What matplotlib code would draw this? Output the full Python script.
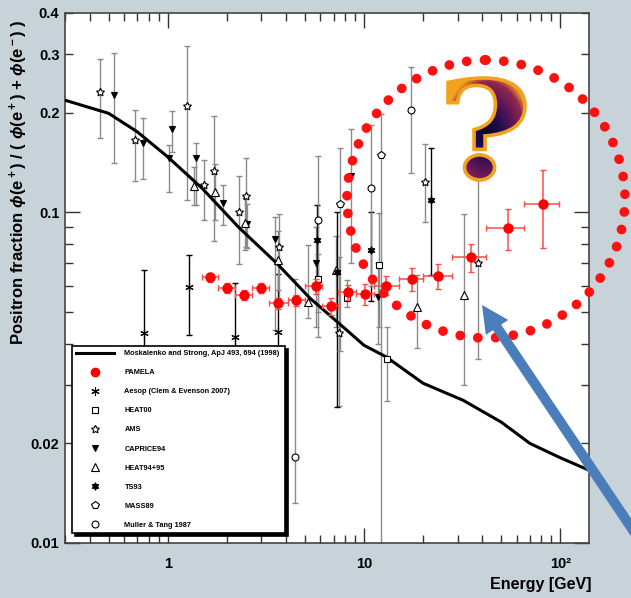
import numpy as np
import matplotlib
matplotlib.use('Agg')
import matplotlib.pyplot as plt
import matplotlib.ticker as mticker
from matplotlib.lines import Line2D
from matplotlib.patches import Circle, PathPatch, FancyArrow
from matplotlib.textpath import TextPath
from matplotlib.font_manager import FontProperties
from matplotlib.colors import LinearSegmentedColormap
from matplotlib.transforms import Affine2D

plt.rcParams['font.family'] = ['Liberation Sans', 'DejaVu Sans']
plt.rcParams['font.weight'] = 'bold'
plt.rcParams['mathtext.fontset'] = 'custom'
plt.rcParams['mathtext.rm'] = 'Liberation Sans:bold'
plt.rcParams['mathtext.bf'] = 'Liberation Sans:bold'
plt.rcParams['mathtext.it'] = 'Liberation Sans:italic:bold'

# ---- data ----
# Moskalenko & Strong model curve
curve_E = [0.3, 0.5, 0.7, 1.0, 1.5, 2.3, 3.6, 5.3, 7.5, 10, 13, 20, 32, 50, 70, 100, 140]
curve_f = [0.218, 0.199, 0.175, 0.147, 0.118, 0.090, 0.070, 0.055, 0.046, 0.0396,
           0.0365, 0.0304, 0.027, 0.0232, 0.020, 0.0181, 0.0166]

# PAMELA
pam_E = [1.64, 2.0, 2.44, 2.98, 3.64, 4.5, 5.7, 6.8, 8.3, 10.1, 13.0, 17.6, 23.8, 35, 54, 82]
pam_f = [0.0637, 0.0589, 0.0561, 0.0589, 0.0531, 0.0542, 0.0597, 0.052, 0.0573, 0.0565,
         0.060, 0.0628, 0.064, 0.073, 0.0895, 0.106]
pam_Elo = [1.5, 1.8, 2.2, 2.7, 3.3, 4.1, 5.0, 6.1, 7.4, 9.1, 11.2, 15, 20, 28, 42, 65]
pam_Ehi = [1.8, 2.2, 2.7, 3.3, 4.1, 5.0, 6.1, 7.4, 9.1, 11.2, 15, 20, 28, 42, 65, 99]
pam_err = [0.002, 0.002, 0.002, 0.002, 0.002, 0.002, 0.003, 0.003, 0.003, 0.004,
           0.004, 0.005, 0.0055, 0.007, 0.0125, 0.028]

# Aesop (Clem & Evenson 2007)
aes_E = [0.755, 1.29, 2.2, 3.64]
aes_f = [0.0431, 0.0594, 0.042, 0.0434]
aes_lo = [0.025, 0.0425, 0.025, 0.025]
aes_hi = [0.0668, 0.0741, 0.061, 0.065]

# HEAT00
h00_E = [5.8, 8.2, 11.9, 13.1]
h00_f = [0.0628, 0.055, 0.069, 0.036]
h00_lo = [0.05, 0.0516, 0.045, 0.0268]
h00_hi = [0.075, 0.0623, 0.0993, 0.0449]

# AMS
ams_E = [0.45, 0.68, 1.25, 1.53, 1.72, 2.30, 2.50, 3.68, 7.5, 20.5, 38.2]
ams_f = [0.231, 0.165, 0.21, 0.121, 0.133, 0.100, 0.112, 0.0784, 0.043, 0.123, 0.0701]
ams_lo = [0.168, 0.124, 0.109, 0.0946, 0.0817, 0.0697, 0.0784, 0.053, 0.026, 0.0933, 0.036]
ams_hi = [0.29, 0.203, 0.318, 0.144, 0.195, 0.129, 0.146, 0.099, 0.073, 0.161, 0.125]

# CAPRICE94
cap_E = [0.536, 0.746, 1.05, 1.02, 1.39, 1.91, 2.55, 3.52, 5.7, 8.6, 11.8]
cap_f = [0.226, 0.162, 0.178, 0.146, 0.146, 0.1065, 0.092, 0.0829, 0.070, 0.129, 0.0553]
cap_lo = [0.141, 0.126, 0.152, 0.115, 0.105, 0.0913, 0.078, 0.044, 0.045, 0.07, 0.040]
cap_hi = [0.303, 0.192, 0.202, 0.16, 0.162, 0.121, 0.106, 0.0966, 0.09, 0.178, 0.07]

# HEAT94+95
h94_E = [1.36, 1.74, 2.47, 3.64, 5.2, 7.2, 18.7, 32.4]
h94_f = [0.120, 0.115, 0.0926, 0.0716, 0.0534, 0.0668, 0.0516, 0.0562]
h94_lo = [0.105, 0.095, 0.077, 0.058, 0.0478, 0.045, 0.0388, 0.030]
h94_hi = [0.137, 0.14, 0.11, 0.088, 0.0795, 0.085, 0.0645, 0.0986]

# TS93
ts_E = [5.76, 7.3, 10.9, 22]
ts_f = [0.0823, 0.066, 0.0767, 0.109]
ts_lo = [0.06, 0.0257, 0.054, 0.0645]
ts_hi = [0.105, 0.10, 0.10, 0.156]

# MASS89
mas_E = [7.55, 12.2]
mas_f = [0.106, 0.149]
mas_lo = [0.038, 0.005]
mas_hi = [0.156, 0.198]

# Muller & Tang 1987
mul_E = [4.45, 5.8, 10.9, 17.4]
mul_f = [0.0182, 0.0946, 0.118, 0.203]
mul_lo = [0.0132, 0.042, 0.06, 0.131]
mul_hi = [0.063, 0.148, 0.183, 0.275]

labels = ['Moskalenko and Strong, ApJ 493, 694 (1998)', 'PAMELA',
          'Aesop (Clem & Evenson 2007)', 'HEAT00', 'AMS', 'CAPRICE94',
          'HEAT94+95', 'TS93', 'MASS89', 'Muller & Tang 1987']

# ---- figure ----
W, H = 631, 598
fig = plt.figure(figsize=(W / 100, H / 100), dpi=100)
fig.patch.set_facecolor('#c8d2d9')

ax = fig.add_axes([65 / W, 1 - 543 / H, 524 / W, 530 / H])
ax.set_xscale('log')
ax.set_yscale('log')

ax.plot(curve_E, curve_f, color='k', lw=2.2, zorder=3)

# (E, f, lo, hi, marker, size, facecolor, errcolor)
sets = [
    (aes_E, aes_f, aes_lo, aes_hi, (6, 2, 0), 6, 'k', 'k'),
    (h00_E, h00_f, h00_lo, h00_hi, 's', 5, 'white', '#8a8a8a'),
    (ams_E, ams_f, ams_lo, ams_hi, (5, 1, 0), 6, 'white', '#8a8a8a'),
    (cap_E, cap_f, cap_lo, cap_hi, 'v', 5, 'k', '#8a8a8a'),
    (h94_E, h94_f, h94_lo, h94_hi, '^', 5.5, 'white', '#8a8a8a'),
    (ts_E, ts_f, ts_lo, ts_hi, (6, 1, 0), 5.5, 'k', 'k'),
    (mas_E, mas_f, mas_lo, mas_hi, 'p', 5.5, 'white', '#8a8a8a'),
    (mul_E, mul_f, mul_lo, mul_hi, 'o', 5, 'white', '#8a8a8a'),
]
handles = [Line2D([], [], color='k', lw=2.2),
           Line2D([], [], ls='none', marker='o', ms=6, color='red')]
for E, f, lo, hi, mk, ms, fc, ec in sets:
    E = np.array(E); f = np.array(f)
    yerr = [f - np.array(lo), np.array(hi) - f]
    ax.errorbar(E, f, yerr=yerr, fmt='none', ecolor=ec, elinewidth=1,
                capsize=2, capthick=1, zorder=2)
    ax.plot(E, f, ls='none', marker=mk, ms=ms, mfc=fc, mec='k', mew=0.8, zorder=4)
    handles.append(Line2D([], [], ls='none', marker=mk, ms=ms, mfc=fc, mec='k', mew=0.8))

pE = np.array(pam_E)
ax.errorbar(pE, pam_f, xerr=[pE - np.array(pam_Elo), np.array(pam_Ehi) - pE],
            yerr=pam_err, fmt='o', color='red', ms=6.5, ecolor='#ff4a4a',
            elinewidth=1.1, capsize=2, capthick=1, zorder=5)

ax.set_xlim(0.3, 140)
ax.set_ylim(0.01, 0.4)

ax.xaxis.set_major_locator(mticker.FixedLocator([1, 10, 100]))
ax.xaxis.set_major_formatter(mticker.FixedFormatter(['1', '10', '10\u00b2']))
ax.xaxis.set_minor_locator(mticker.LogLocator(subs=np.arange(2, 10)))
ax.xaxis.set_minor_formatter(mticker.NullFormatter())

ytick_minor = [0.02, 0.03, 0.04, 0.05, 0.06, 0.07, 0.08, 0.09, 0.2, 0.3, 0.4]
ylab_minor = {0.02: '0.02', 0.2: '0.2', 0.3: '0.3', 0.4: '0.4'}
ax.yaxis.set_major_locator(mticker.FixedLocator([0.01, 0.1]))
ax.yaxis.set_major_formatter(mticker.FixedFormatter(['0.01', '0.1']))
ax.yaxis.set_minor_locator(mticker.FixedLocator(ytick_minor))
ax.yaxis.set_minor_formatter(mticker.FuncFormatter(lambda v, p: ylab_minor.get(round(v, 3), '')))

ax.tick_params(which='both', direction='in', top=True, right=True,
               labelsize=10.5, color='#333333', width=1)
ax.tick_params(which='major', length=11)
ax.tick_params(which='minor', length=5.5)
ax.tick_params(axis='x', which='both', pad=10)
ax.tick_params(axis='y', which='both', pad=4)
for s in ax.spines.values():
    s.set_color('#444444')
    s.set_linewidth(1.2)

leg = ax.legend(handles, labels, loc='lower left',
                bbox_to_anchor=(0.013, 0.019, 0.407, 0.37), mode='expand',
                borderaxespad=0, fontsize=5.3, labelspacing=1.62, handlelength=5.2,
                handletextpad=1.4, borderpad=0.55, fancybox=False, edgecolor='k',
                framealpha=1, shadow={'color': 'k', 'alpha': 1})
leg.get_frame().set_linewidth(1.2)
leg.set_zorder(10)

fig.text(19 / W, 1 - 182 / H,
         r'Positron fraction $\phi$(e$^+$) / ( $\phi$(e$^+$) + $\phi$(e$^-$) )',
         rotation=90, ha='center', va='center', fontsize=12)
fig.text(591 / W, 1 - 584 / H, 'Energy [GeV]', ha='right', va='center', fontsize=11.5)

# ---- overlay in image pixel coordinates ----
ov = fig.add_axes([0, 0, 1, 1])
ov.axis('off')

ov.add_patch(Circle((486, 199), 139, fill=False, ec='#ff1010', lw=7.0,
                    ls=(0, (0.01, 1.82)), capstyle='round'))

fp = FontProperties(family='DejaVu Serif', weight='bold')
tp = TextPath((0, 0), '?', size=100, prop=fp)
bb = tp.get_extents()
sx = 77 / bb.width
sy = 102 / bb.height
tr = Affine2D().translate(-bb.x0, -bb.y1).scale(sx, -sy).translate(448, 78)
qpath = tr.transform_path(tp)
qpatch = PathPatch(qpath, fc='none', ec='#f3a21e', lw=2.6, zorder=6)
ov.add_patch(qpatch)
cmap = LinearSegmentedColormap.from_list(
    'q', [(0, '#06062e'), (0.3, '#220c4e'), (0.6, '#5c1658'),
          (0.85, '#92264e'), (1.0, '#f2a21e')])
yy, xx = np.mgrid[70:190, 435:540]
r = np.hypot((xx - 487) / 44.0, (yy - 134) / 62.0)
im = ov.imshow(np.clip(r, 0, 1), extent=(435, 540, 190, 70), cmap=cmap,
               aspect='auto', zorder=5, interpolation='bilinear', vmin=0, vmax=1)
im.set_clip_path(qpatch)

ov.add_patch(FancyArrow(665, 578, 482 - 665, 305 - 578, width=10, head_width=27,
                        head_length=27, length_includes_head=True,
                        fc='#4a7ebb', ec='none'))

ov.set_xlim(0, W)
ov.set_ylim(H, 0)

fig.savefig('out.png', dpi=100, facecolor=fig.get_facecolor())
